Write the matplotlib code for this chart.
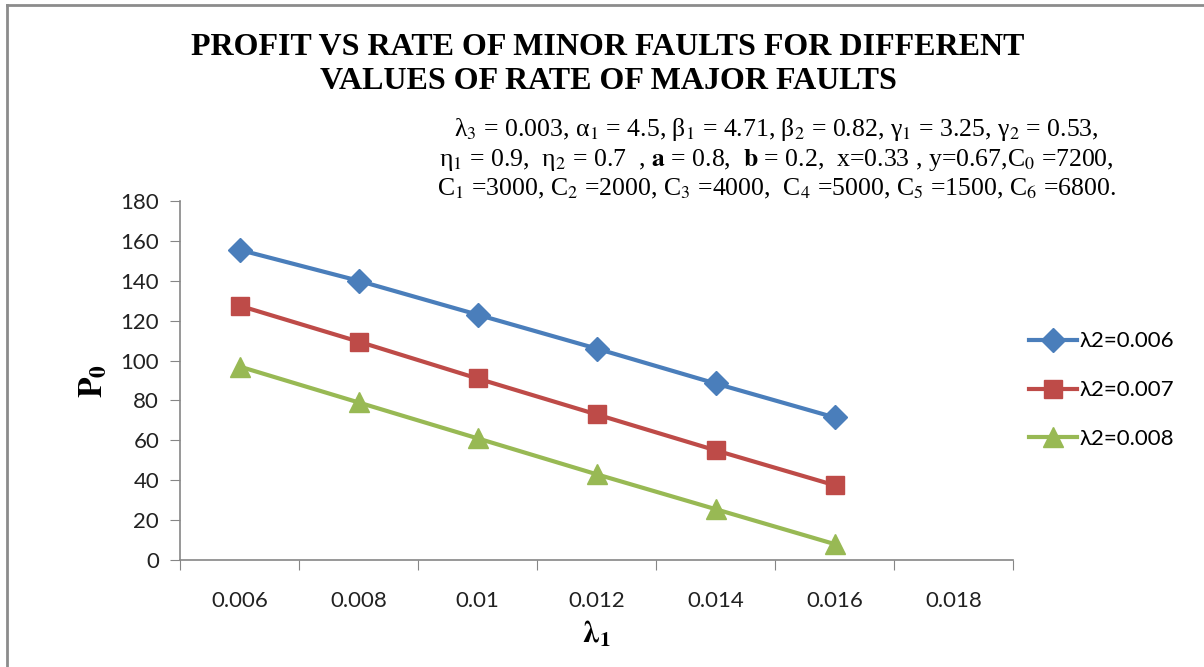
import numpy as np
import matplotlib.pyplot as plt
from matplotlib.lines import Line2D

# data
lam1 = ['0.006', '0.008', '0.01', '0.012', '0.014', '0.016', '0.018']
p_006 = [155.5, 140, 123, 106, 88.5, 71.5]
p_007 = [127.5, 109.5, 91, 73, 55, 37.5]
p_008 = [97, 79, 61, 43, 25.5, 8]
labels = ['λ2=0.006', 'λ2=0.007', 'λ2=0.008']

plt.rcParams['mathtext.fontset'] = 'stix'
sans = ['Lato', 'DejaVu Sans']
serif = ['Liberation Serif', 'DejaVu Serif']

fig = plt.figure(figsize=(12.04, 6.67), dpi=100)
ax = fig.add_axes([0.1495, 0.1604, 0.6919, 0.5383])

x = np.arange(len(p_006))
ax.plot(x, p_006, color='#4A7EBB', lw=3, marker='D', ms=12, label=labels[0])
ax.plot(x, p_007, color='#BE4B48', lw=3, marker='s', ms=13, label=labels[1])
ax.plot(x, p_008, color='#98B954', lw=3, marker='^', ms=14, label=labels[2])

ax.set_xlim(-0.5, len(lam1) - 0.5)
ax.set_ylim(0, 180)
ax.set_yticks(range(0, 181, 20))
ax.set_xticks(np.arange(len(lam1) + 1) - 0.5)
ax.set_xticklabels([])
ax.set_xticks(np.arange(len(lam1)), minor=True)
ax.set_xticklabels(lam1, minor=True)
ax.tick_params(axis='x', which='major', length=7, color='#868686', direction='out')
ax.tick_params(axis='x', which='minor', length=0, pad=22, labelsize=16)
ax.tick_params(axis='y', length=7, color='#868686', pad=8, labelsize=16)
for t in ax.get_xticklabels(minor=True) + ax.get_yticklabels():
    t.set_family(sans)
    t.set_color('#222222')

for s in ['top', 'right']:
    ax.spines[s].set_visible(False)
for s in ['left', 'bottom']:
    ax.spines[s].set_color('#868686')
    ax.spines[s].set_linewidth(1.2)

ax.set_ylabel(r'$\mathbf{P}_\mathbf{0}$', fontsize=24, labelpad=8)
ax.set_xlabel(r'$\mathbf{\lambda}_\mathbf{1}$', fontsize=22, labelpad=6)

leg = ax.legend(loc='upper left', bbox_to_anchor=(1.0, 0.68), frameon=False,
                prop={'family': sans, 'size': 16}, handlelength=2.2,
                handletextpad=0.1, labelspacing=1.3, borderaxespad=0.3)

fig.text(0.505, 0.903, 'PROFIT VS RATE OF MINOR FAULTS FOR DIFFERENT\nVALUES OF RATE OF MAJOR FAULTS',
         ha='center', va='center', fontsize=23, fontweight='bold',
         family=serif, linespacing=1.2)

params = ('λ$_3$ = 0.003, α$_1$ = 4.5, β$_1$ = 4.71, β$_2$ = 0.82, γ$_1$ = 3.25, γ$_2$ = 0.53,\n'
          'η$_1$ = 0.9,  η$_2$ = 0.7  , $\\mathbf{a}$ = 0.8,  $\\mathbf{b}$ = 0.2,  x=0.33 , y=0.67,C$_0$ =7200,\n'
          'C$_1$ =3000, C$_2$ =2000, C$_3$ =4000,  C$_4$ =5000, C$_5$ =1500, C$_6$ =6800.')
fig.text(0.645, 0.762, params, ha='center', va='center', fontsize=18.5,
         family=serif, linespacing=1.2)

# chart border (top and left visible)
fig.add_artist(Line2D([0.006, 0.006], [0, 0.992], color='#8c8c8c', lw=2,
                      transform=fig.transFigure))
fig.add_artist(Line2D([0.006, 1], [0.992, 0.992], color='#8c8c8c', lw=2,
                      transform=fig.transFigure))

fig.savefig('out.png', dpi=100)
